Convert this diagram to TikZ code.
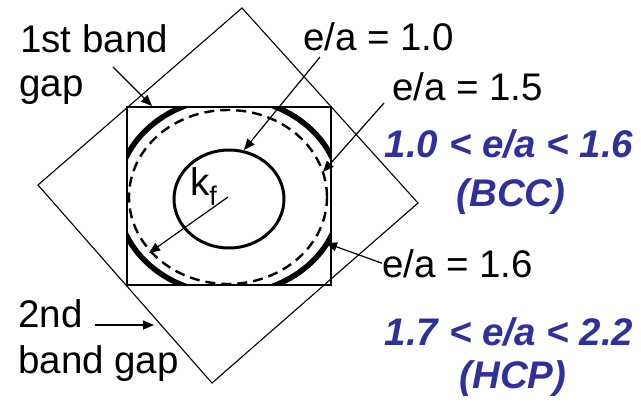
\documentclass[tikz,border=0pt]{standalone}
\usepackage{fontspec}
\setmainfont{Liberation Sans}
\usepackage{tikz}
\usetikzlibrary{arrows.meta, positioning, calc}
\definecolor{phaseblue}{RGB}{48,48,156}
\newcommand{\ea}[1]{e/a = #1}

\begin{document}
\begin{tikzpicture}[x=1pt, y=-1pt,
  tag/.style={font=\fontsize{38.5}{44}\selectfont, inner sep=0pt, anchor=base west},
  phase/.style={font=\fontsize{38.5}{44}\selectfont\bfseries\itshape, text=phaseblue, inner sep=0pt, anchor=base},
  pointer/.style={line width=1.2pt, -{Triangle[length=11pt, width=9pt]}},
  zone/.style={line width=1.1pt},
  gaparc/.style={line width=5.5pt}]
  \useasboundingbox (0,0) rectangle (641,402);

  % zone boundaries
  \coordinate (zt) at (242,8);
  \coordinate (zr) at (418,203);
  \coordinate (zb) at (212,383);
  \coordinate (zl) at (38,185);
  \draw[zone] (zt) -- (zr) -- (zb) -- (zl) -- cycle;
  \draw[zone] (127,107) rectangle (331,285);

  % Fermi surfaces
  \coordinate (fs) at (229,196);
  \draw[line width=3pt] (229,199) ellipse [x radius=55pt, y radius=49pt];
  \draw[line width=2.4pt, dash pattern=on 10pt off 6pt] (228,197) ellipse [x radius=99pt, y radius=87pt];
  \begin{scope}
    \clip (127,107) rectangle (331,285);
    \foreach \a in {20,110,200,290}
      \draw[gaparc] ($(fs)+(\a:112pt and 98pt)$) arc [start angle=\a, delta angle=50, x radius=112pt, y radius=98pt];
  \end{scope}

  % labels
  \node[tag] (gapone) at (20,52) {1st band};
  \node[tag] (gaponeb) at (19,96) {gap};
  \node[tag] (ea10) at (303,50) {\ea{1.0}};
  \node[tag] (ea15) at (392,100) {\ea{1.5}};
  \node[tag] (ea16) at (382,277) {\ea{1.6}};
  \node[tag] (gaptwo) at (18,327) {2nd};
  \node[tag] (gaptwob) at (18,373) {band gap};
  \node[tag] (kf) at (190,195) {k\textsubscript{f}};
  \node[phase] (bccrange) at (509,157) {1.0 < e/a < 1.6};
  \node[phase] (bcc) at (511,206) {(BCC)};
  \node[phase] (hcprange) at (509,345) {1.7 < e/a < 2.2};
  \node[phase] (hcp) at (513,388) {(HCP)};

  % pointers
  \coordinate (gaponefrom) at (113,67);
  \coordinate (gaponeto) at (152,106);
  \coordinate (ea10from) at (320,57);
  \coordinate (ea10to) at (244,150);
  \coordinate (ea15from) at (384,103);
  \coordinate (ea15to) at (323,172);
  \coordinate (ea16to) at (326,243);
  \coordinate (kffrom) at (228,197);
  \coordinate (kfto) at (149,253);
  \coordinate (gaptwofrom) at (95,325);
  \coordinate (gaptwoto) at (154,325);
  \draw[pointer] (gaponefrom) -- (gaponeto);
  \draw[pointer] (ea10from) -- (ea10to);
  \draw[pointer] (ea15from) -- (ea15to);
  \draw[pointer] (ea16.west) -- (ea16to);
  \draw[pointer] (kffrom) -- (kfto);
  \draw[pointer] (gaptwofrom) -- (gaptwoto);
\end{tikzpicture}
\end{document}
